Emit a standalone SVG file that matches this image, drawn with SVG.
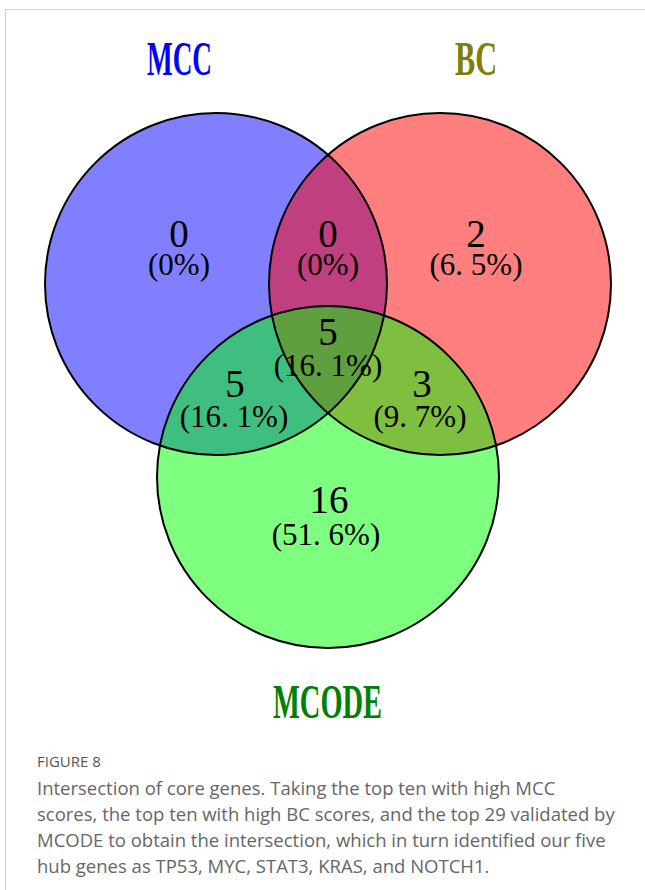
<svg xmlns="http://www.w3.org/2000/svg" width="645" height="890" viewBox="0 0 645 890">
<style>
.fill{stroke:none;fill-opacity:0.5}
.ring{fill:none;stroke:#000;stroke-width:2}
.num{font-family:"Liberation Serif",serif;font-size:39px;fill:#000;text-anchor:middle}
.pct{font-family:"Liberation Serif",serif;font-size:31px;fill:#000;text-anchor:middle}
.title{font-family:"Liberation Serif",serif;font-size:48px;font-weight:bold}
.cap{font-family:"Open Sans","Liberation Sans",sans-serif;font-size:18.5px;fill:#666}
.fig{font-family:"Open Sans","Liberation Sans",sans-serif;font-size:15px;fill:#555}
</style>
<rect width="645" height="890" fill="#fff"/>
<path d="M5.5 890 V9.5 H645" fill="none" stroke="#d0d0d0" stroke-width="1"/>
<g id="sets">
<g id="MCC">
<circle class="fill" cx="216" cy="284" r="171" fill="#0000ff"/>
</g>
<g id="BC">
<circle class="fill" cx="440" cy="284" r="171" fill="#ff0000"/>
</g>
<g id="MCODE">
<circle class="fill" cx="328" cy="477" r="171" fill="#00ff00"/>
</g>
<circle class="ring" cx="216" cy="284" r="171"/>
<circle class="ring" cx="440" cy="284" r="171"/>
<circle class="ring" cx="328" cy="477" r="171"/>
</g>
<g id="labels">
<text class="title" x="147" y="75" fill="#0000ff" textLength="65" lengthAdjust="spacingAndGlyphs">MCC</text>
<text class="title" x="455" y="75" fill="#808000" textLength="42" lengthAdjust="spacingAndGlyphs">BC</text>
<text class="title" x="273" y="718" fill="#008000" textLength="109" lengthAdjust="spacingAndGlyphs">MCODE</text>
</g>
<g id="counts">
<g id="r-mcc"><text class="num" x="179" y="247">0</text><text class="pct" x="179" y="275">(0%)</text></g>
<g id="r-mcc-bc"><text class="num" x="328" y="247">0</text><text class="pct" x="328" y="275">(0%)</text></g>
<g id="r-bc"><text class="num" x="476" y="247">2</text><text class="pct" x="476" y="275">(6. 5%)</text></g>
<g id="r-all"><text class="num" x="328" y="345">5</text><text class="pct" x="328" y="376">(16. 1%)</text></g>
<g id="r-mcc-mcode"><text class="num" x="235" y="397">5</text><text class="pct" x="234" y="427">(16. 1%)</text></g>
<g id="r-bc-mcode"><text class="num" x="422" y="397">3</text><text class="pct" x="420" y="427">(9. 7%)</text></g>
<g id="r-mcode"><text class="num" x="329" y="513">16</text><text class="pct" x="326" y="545">(51. 6%)</text></g>
</g>
<g id="caption">
<text class="fig" x="37" y="767">FIGURE 8</text>
<text class="cap" x="37" y="795">Intersection of core genes. Taking the top ten with high MCC</text>
<text class="cap" x="37" y="821">scores, the top ten with high BC scores, and the top 29 validated by</text>
<text class="cap" x="37" y="847">MCODE to obtain the intersection, which in turn identified our five</text>
<text class="cap" x="37" y="873">hub genes as TP53, MYC, STAT3, KRAS, and NOTCH1.</text>
</g>
</svg>
